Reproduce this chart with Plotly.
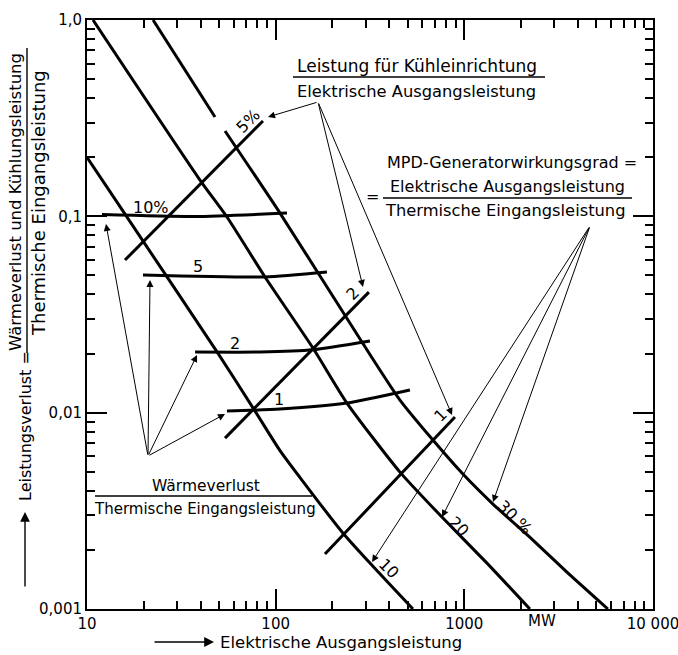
import plotly.graph_objects as go

# ---------------- data ----------------
# MPD generator efficiency curves (loss fraction vs electrical output, MW)
eff10_x = [10, 16.3, 48.9, 76.7, 105, 134, 227, 324, 534]
eff10_y = [0.2, 0.099, 0.0204, 0.0104, 0.00645, 0.0047, 0.00244, 0.00167, 0.001]

eff20_x = [10.76, 39.7, 55.2, 87.8, 157.6, 238.7, 455.8, 760.9, 1318, 2226]
eff20_y = [1.0, 0.153, 0.0992, 0.0491, 0.02134, 0.01119, 0.00498, 0.00294, 0.001713, 0.001]

eff30_x = [22.4, 47.7, None, 53.9, 105.4, 286.6, 455.8, 681.7, 983, 1418, 2310, 3498, 5768]
eff30_y = [1.0, 0.3206, None, 0.272, 0.1039, 0.02289, 0.01159, 0.007252, 0.004867, 0.003423, 0.002244, 0.001542, 0.001]

# heat loss / thermal input (nearly horizontal lines): 10 %, 5, 2, 1
heat10_x = [12.0, 37.4, 114.8]
heat10_y = [0.1021, 0.0998, 0.1039]
heat5_x = [19.8, 87.8, 187]
heat5_y = [0.0502, 0.0491, 0.052]
heat2_x = [37.4, 82.6, 157.6, 316]
heat2_y = [0.02036, 0.02036, 0.0209, 0.02316]
heat1_x = [55.2, 105.4, 238.7, 514.8]
heat1_y = [0.01019, 0.01043, 0.01119, 0.01304]

# cooling power / electrical output (rising lines): 5 %, 2, 1
cool5_x = [15.9, 85.6]
cool5_y = [0.0599, 0.306]
cool2_x = [53.9, 312]
cool2_y = [0.00742, 0.0411]
cool1_x = [182.5, 891.8]
cool1_y = [0.001905, 0.0095]

x_tickvals = [10, 100, 1000, 10000]
x_ticktext = ["10", "100", "1000", "10 000"]
y_tickvals = [0.001, 0.01, 0.1, 1]
y_ticktext = ["0,001", "0,01", "0,1", "1,0"]

# ---------------- figure ----------------
W, H = 678, 655
L, R, T, B = 87, 653, 20, 609
FONT = "DejaVu Sans"


def P(px, py):
    return (px - L) / (R - L), (B - py) / (B - T)


fig = go.Figure()

thick = dict(color="black", width=3, shape="spline", smoothing=0.6)
for xs, ys in [(eff10_x, eff10_y), (eff20_x, eff20_y), (eff30_x, eff30_y),
               (heat10_x, heat10_y), (heat5_x, heat5_y), (heat2_x, heat2_y), (heat1_x, heat1_y),
               (cool5_x, cool5_y), (cool2_x, cool2_y), (cool1_x, cool1_y)]:
    fig.add_trace(go.Scatter(x=xs, y=ys, mode="lines", line=thick,
                             hoverinfo="skip", showlegend=False, connectgaps=False))

annotations = []
shapes = []


def text(px, py, s, size=16, angle=0, xanchor="center"):
    x, y = P(px, py)
    annotations.append(dict(x=x, y=y, xref="paper", yref="paper", text=s, showarrow=False,
                            textangle=angle, xanchor=xanchor, yanchor="middle",
                            font=dict(family=FONT, size=size, color="black")))


def arrow(tail, head, width=1):
    x, y = P(*head)
    annotations.append(dict(x=x, y=y, xref="paper", yref="paper", text="", showarrow=True,
                            ax=tail[0] - head[0], ay=tail[1] - head[1], axref="pixel", ayref="pixel",
                            arrowhead=2, arrowsize=1.4, arrowwidth=width, arrowcolor="black",
                            standoff=0, startstandoff=0))


def hline(px0, px1, py, width=1.4):
    x0, y0 = P(px0, py)
    x1, _ = P(px1, py)
    shapes.append(dict(type="line", xref="paper", yref="paper", x0=x0, x1=x1, y0=y0, y1=y0,
                       line=dict(color="black", width=width)))


def vline(px, py0, py1, width=1.4):
    x0, y0 = P(px, py0)
    _, y1 = P(px, py1)
    shapes.append(dict(type="line", xref="paper", yref="paper", x0=x0, x1=x0, y0=y0, y1=y1,
                       line=dict(color="black", width=width)))


# top fraction
text(417, 66, "Leistung für Kühleinrichtung", size=17)
hline(293, 545, 77)
text(416, 91, "Elektrische Ausgangsleistung", size=16.3)
for head in [(268, 117), (363, 287), (452, 415)]:
    arrow((318, 102), head)

# MPD efficiency fraction
text(512, 163, "MPD-Generatorwirkungsgrad =", size=16)
text(372, 197, "=", size=16)
text(507, 186, "Elektrische Ausgangsleistung", size=16)
hline(383, 632, 198)
text(505, 210, "Thermische Eingangsleistung", size=16.3)
for head in [(372, 562), (442, 517), (493, 502)]:
    arrow((590, 226), head)

# bottom-left fraction
text(206, 486, "Wärmeverlust", size=15.5)
hline(95, 312, 496)
text(205, 509, "Thermische Eingangsleistung", size=15)
for head in [(106, 224), (150, 280), (197, 355), (225, 414)]:
    arrow((148, 456), head)

# curve labels
text(151, 207, "10%", size=16)
text(198, 266, "5", size=16)
text(235, 343, "2", size=16)
text(279, 399, "1", size=16)
text(248, 122, "5%", size=16, angle=-45)
text(353, 294, "2", size=16, angle=-45)
text(440, 415, "1", size=16, angle=-45)
text(389, 568, "10", size=16, angle=45)
text(459, 526, "20", size=16, angle=45)
text(515, 517, "30 %", size=16, angle=45)

# y-axis title
text(15, 202, "Wärmeverlust und Kühlungsleistung", size=16.5, angle=-90)
vline(27, 48, 353)
text(38, 203, "Thermische Eingangsleistung", size=18, angle=-90)
text(25, 426, "Leistungsverlust =", size=16, angle=-90)
arrow((25, 588), (25, 512), width=1.4)

# x-axis title
arrow((153, 642), (214, 642), width=1.4)
text(218, 642, "Elektrische Ausgangsleistung", size=16.5, xanchor="left")
text(542, 621, "MW", size=15)

minor_x = [m * 10 ** e for e in (1, 2, 3) for m in range(2, 10)]
minor_y = [m * 10 ** e for e in (-3, -2, -1) for m in range(2, 10)]

axis_common = dict(type="log", showline=True, linewidth=2, linecolor="black", mirror="ticks",
                   ticks="inside", ticklen=20, tickwidth=1.5, tickcolor="black",
                   showgrid=False, zeroline=False, automargin=False,
                   ticklabeloverflow="allow",
                   tickfont=dict(family=FONT, size=15, color="black"))

fig.update_layout(
    width=W, height=H, autosize=False,
    margin=dict(l=L, r=W - R, t=T, b=H - B, pad=0),
    paper_bgcolor="white", plot_bgcolor="white",
    xaxis=dict(range=[1, 4], tickmode="array", tickvals=x_tickvals, ticktext=x_ticktext,
               minor=dict(tickmode="array", tickvals=minor_x, ticks="inside", ticklen=8,
                          tickwidth=1.5, tickcolor="black", showgrid=False),
               **axis_common),
    yaxis=dict(range=[-3, 0], tickmode="array", tickvals=y_tickvals, ticktext=y_ticktext,
               minor=dict(tickmode="array", tickvals=minor_y, ticks="inside", ticklen=8,
                          tickwidth=1.5, tickcolor="black", showgrid=False),
               **axis_common),
    annotations=annotations, shapes=shapes,
    font=dict(family=FONT, color="black"),
)

fig.write_html("out.html", config={"displayModeBar": False},
               post_script="document.body.style.margin='0px';document.body.style.overflow='hidden';")
